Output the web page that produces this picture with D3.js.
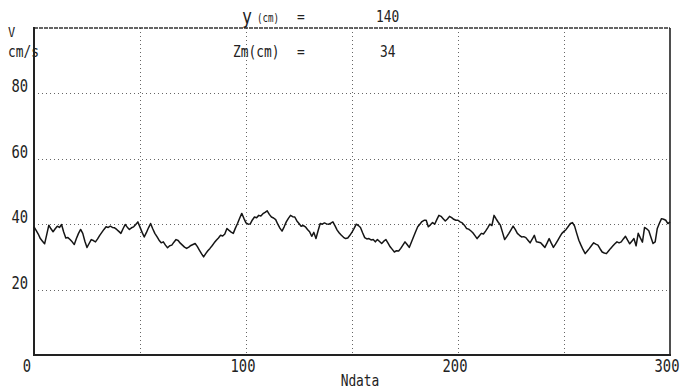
<!DOCTYPE html>
<html>
<head>
<meta charset="utf-8">
<script src="https://cdn.jsdelivr.net/npm/d3@7"></script>
<style>
  html, body { margin: 0; padding: 0; background: #fff; }
  svg { display: block; }
  text { font-family: "DejaVu Sans Mono", "Liberation Mono", monospace; fill: #222; }
</style>
</head>
<body>
<svg id="chart" width="683" height="391"></svg>
<script>
// ---- data ----
const velocity = [
  39.2, 38.1, 37.0, 35.6, 34.8, 34.0, 36.8, 39.7, 38.6, 37.7,
  38.6, 39.4, 39.0, 39.9, 37.6, 35.8, 35.9, 35.3, 34.6, 33.8,
  35.6, 37.2, 38.4, 37.2, 34.8, 32.9, 34.1, 35.3, 35.0, 34.6,
  35.5, 36.6, 37.5, 38.4, 39.2, 39.0, 39.4, 39.0, 38.9, 38.4,
  37.8, 37.2, 38.6, 39.9, 39.1, 38.4, 38.9, 39.2, 39.9, 40.7,
  39.1, 37.5, 36.1, 37.4, 38.9, 40.2, 38.6, 37.2, 36.2, 35.1,
  34.3, 34.6, 33.6, 32.8, 33.4, 33.6, 34.5, 35.3, 35.0, 34.2,
  33.6, 33.0, 32.6, 33.0, 33.5, 33.8, 34.1, 33.2, 32.1, 31.0,
  30.0, 31.0, 31.9, 32.6, 33.4, 34.3, 35.1, 35.8, 36.6, 36.4,
  37.0, 38.7, 38.1, 37.6, 37.2, 38.8, 40.2, 41.8, 43.3, 41.8,
  40.4, 40.0, 40.1, 41.3, 42.2, 42.0, 42.7, 42.5, 43.2, 43.6,
  44.1, 43.0, 42.2, 41.9, 41.4, 40.0, 38.8, 37.9, 39.2, 40.7,
  41.8, 42.7, 42.3, 42.2, 41.0, 40.2, 39.4, 39.6, 39.2, 38.4,
  37.7, 36.3, 37.5, 35.6, 38.0, 40.2, 40.0, 40.4, 40.1, 40.0,
  40.3, 40.7, 39.5, 38.2, 37.3, 36.6, 36.0, 35.6, 35.8, 36.6,
  37.6, 38.7, 40.0, 39.6, 39.0, 37.4, 35.9, 35.5, 35.6, 35.2,
  35.3, 34.6, 35.3, 34.7, 34.1, 34.8, 35.3, 34.2, 33.1, 32.3,
  31.5, 31.9, 31.8, 32.6, 33.6, 34.6, 33.8, 32.9, 34.5, 36.1,
  37.7, 39.2, 40.0, 40.8, 41.2, 41.2, 39.2, 39.8, 40.5, 40.0,
  41.4, 42.7, 42.4, 41.7, 41.0, 41.6, 42.4, 42.0, 41.5, 41.2,
  41.2, 40.7, 40.4, 39.7, 38.7, 38.5, 38.0, 37.4, 36.5, 35.6,
  36.4, 37.2, 37.0, 37.9, 38.9, 40.0, 39.6, 42.7, 41.6, 40.6,
  39.7, 37.5, 35.3, 36.2, 37.2, 38.3, 39.4, 38.4, 37.2, 36.6,
  36.1, 36.2, 35.9, 35.1, 34.3, 35.4, 36.6, 34.6, 34.5, 34.3,
  33.6, 32.9, 34.2, 35.6, 34.2, 32.9, 33.9, 35.0, 36.1, 37.2,
  37.8, 38.4, 39.3, 40.2, 40.5, 39.4, 37.2, 35.1, 33.6, 32.2,
  31.0, 31.8, 32.6, 33.5, 34.3, 33.9, 33.6, 32.5, 31.5, 31.2,
  31.0, 31.8, 32.6, 33.3, 34.0, 34.6, 34.3, 34.6, 35.5, 36.3,
  35.1, 34.0, 34.8, 35.6, 33.4, 37.2, 35.8, 34.5, 39.0, 38.6,
  38.0, 36.0, 34.1, 34.6, 38.7, 40.3, 41.7, 41.5, 41.2, 40.2,
  40.7
];
const xTicks = [0, 100, 200, 300];
const xGrid = [50, 100, 150, 200, 250];
const yTicks = [20, 40, 60, 80];
const xDomain = [0, 300];
const yDomain = [0, 100];
const headerLabels = ["y", "(cm)", "=", "140"];
const headerLabels2 = ["Zm(cm)", "=", "34"];
const xTitle = "Ndata";
const yTitle = ["V", "cm/s"];

// ---- layout ----
const svg = d3.select("#chart");
const L = 34, R = 670, T = 28, B = 355;
const x = d3.scaleLinear().domain(xDomain).range([L, R]);
const y = d3.scaleLinear().domain(yDomain).range([B, T]);

svg.append("rect").attr("width", 683).attr("height", 391).attr("fill", "#fff");

// grid (dotted)
const grid = svg.append("g").attr("stroke", "#666").attr("stroke-width", 1)
  .attr("stroke-dasharray", "1,3");
grid.selectAll("line.v").data(xGrid).join("line")
  .attr("class", "v")
  .attr("x1", d => Math.round(x(d)) + 0.5).attr("x2", d => Math.round(x(d)) + 0.5)
  .attr("y1", T).attr("y2", B);
grid.selectAll("line.h").data(yTicks).join("line")
  .attr("class", "h")
  .attr("y1", d => Math.round(y(d)) + 0.5).attr("y2", d => Math.round(y(d)) + 0.5)
  .attr("x1", L).attr("x2", R);

// frame
svg.append("line").attr("x1", L).attr("x2", R).attr("y1", T).attr("y2", T)
  .attr("stroke", "#333").attr("stroke-width", 1.3).attr("stroke-dasharray", "4,1");
svg.append("line").attr("x1", R).attr("x2", R).attr("y1", T).attr("y2", B)
  .attr("stroke", "#222").attr("stroke-width", 1.6);
svg.append("line").attr("x1", L).attr("x2", L).attr("y1", T - 1).attr("y2", B + 1)
  .attr("stroke", "#222").attr("stroke-width", 2);
svg.append("line").attr("x1", L).attr("x2", R + 1).attr("y1", B).attr("y2", B)
  .attr("stroke", "#222").attr("stroke-width", 2);

// data line
const line = d3.line().x((d, i) => x(i)).y(d => y(d));
svg.append("path").datum(velocity)
  .attr("d", line)
  .attr("fill", "none").attr("stroke", "#151515").attr("stroke-width", 1.5)
  .attr("stroke-linejoin", "round");

// text helper: slightly tall, condensed plotter-like text
function label(str, px, py, size, anchor) {
  const g = svg.append("g").attr("transform", `translate(${px},${py}) scale(0.92,1.15)`);
  g.append("text").attr("font-size", size).attr("text-anchor", anchor || "start").text(str);
}

// y tick labels
yTicks.forEach(v => label(String(v), 28, y(v) - 1, 15, "end"));
// x tick labels
xTicks.forEach(v => label(String(v), x(v) - (v === 0 ? 7 : 3) , 372, 15, "middle"));

// axis titles
label(xTitle, 360, 386, 14, "middle");
label(yTitle[0], 8, 37, 13, "start");
label(yTitle[1], 8, 57, 14, "start");

// header
label(headerLabels[0], 242, 24, 18, "start");
label(headerLabels[1], 257, 22, 10, "start");
label(headerLabels[2], 297, 22, 14, "start");
label(headerLabels[3], 376, 22, 14, "start");
label(headerLabels2[0], 233, 57, 14, "start");
label(headerLabels2[1], 297, 57, 14, "start");
label(headerLabels2[2], 380, 57, 14, "start");
</script>
</body>
</html>
